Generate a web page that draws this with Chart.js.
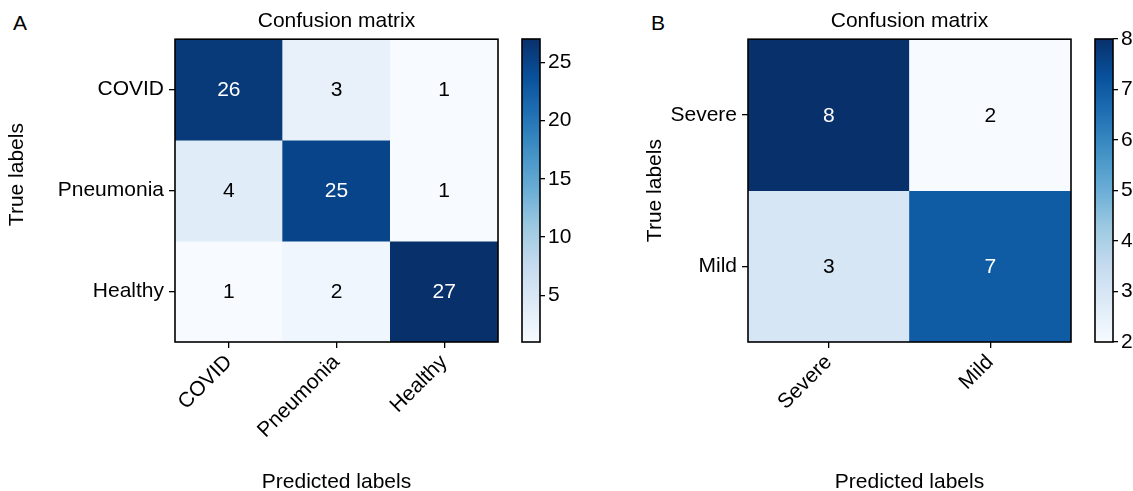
<!DOCTYPE html>
<html>
<head>
<meta charset="utf-8">
<script src="https://cdn.jsdelivr.net/npm/chart.js@4.4.1/dist/chart.umd.min.js"></script>
<style>
  html, body { margin: 0; padding: 0; background: #fff; }
  #wrap { position: relative; width: 1133px; height: 491px; overflow: hidden; }
  canvas { position: absolute; top: 0; }
  .panel { position: absolute; top: 12px; font: 21px 'Liberation Sans', Arial, sans-serif; line-height: 21px; color: #000; }
</style>
</head>
<body>
<div id="wrap">
  <div class="panel" style="left:13px">A</div>
  <div class="panel" style="left:651px">B</div>
  <canvas id="cmA" width="510" height="491" style="left:0"></canvas>
  <canvas id="cbA" width="110" height="491" style="left:510px"></canvas>
  <canvas id="cmB" width="445" height="491" style="left:638px"></canvas>
  <canvas id="cbB" width="50" height="491" style="left:1083px"></canvas>
</div>
<script>
// panel A: 3 classes
const classesA = ['COVID', 'Pneumonia', 'Healthy'];
const matrixA = [
  [26, 3, 1],
  [4, 25, 1],
  [1, 2, 27],
];
const rangeA = [1, 27];
const cbarTicksA = [5, 10, 15, 20, 25];

// panel B: severity
const classesB = ['Severe', 'Mild'];
const matrixB = [
  [8, 2],
  [3, 7],
];
const rangeB = [2, 8];
const cbarTicksB = [2, 3, 4, 5, 6, 7, 8];

const BLUES = ['#f7fbff', '#deebf7', '#c6dbef', '#9ecae1', '#6baed6', '#4292c6', '#2171b5', '#08519c', '#08306b'];
const FONT = "'Liberation Sans', Arial, sans-serif";

Chart.defaults.font.family = FONT;
Chart.defaults.font.size = 21;
Chart.defaults.color = '#000';
Chart.defaults.animation = false;

function hex(c) { return [1, 3, 5].map(i => parseInt(c.substr(i, 2), 16)); }
function blues(t) {
  t = Math.max(0, Math.min(1, t));
  const p = t * (BLUES.length - 1);
  const i = Math.min(Math.floor(p), BLUES.length - 2);
  const f = p - i;
  const a = hex(BLUES[i]), b = hex(BLUES[i + 1]);
  const m = a.map((v, k) => Math.round(v + (b[k] - v) * f));
  return 'rgb(' + m.join(',') + ')';
}

// black box round the plot area
const framePlugin = {
  id: 'frame',
  afterDraw(chart) {
    const { ctx, chartArea: a } = chart;
    ctx.save();
    ctx.strokeStyle = '#000';
    ctx.lineWidth = 1.6;
    ctx.strokeRect(a.left, a.top, a.right - a.left, a.bottom - a.top);
    ctx.restore();
  }
};

// numbers inside the cells
const cellTextPlugin = {
  id: 'cellText',
  afterDatasetsDraw(chart) {
    const { ctx } = chart;
    const matrix = chart.options.plugins.cellText.matrix;
    const thresh = Math.max(...matrix.flat()) / 2;
    ctx.save();
    ctx.font = '21px ' + FONT;
    ctx.textAlign = 'center';
    ctx.textBaseline = 'middle';
    chart.data.datasets.forEach((ds, r) => {
      chart.getDatasetMeta(r).data.forEach((el, c) => {
        const v = matrix[r][c];
        const p = el.getCenterPoint();
        ctx.fillStyle = v > thresh ? '#fff' : '#000';
        ctx.fillText(String(v), p.x, p.y + 1);
      });
    });
    ctx.restore();
  }
};

// rotated y label (panel A's sits a bit above the middle)
const sideLabelPlugin = {
  id: 'sideLabel',
  afterDraw(chart) {
    const o = chart.options.plugins.sideLabel;
    const { ctx, chartArea: a } = chart;
    ctx.save();
    ctx.font = '21px ' + FONT;
    ctx.fillStyle = '#000';
    ctx.textAlign = 'center';
    ctx.textBaseline = 'middle';
    ctx.translate(o.x, (a.top + a.bottom) / 2 + o.shift);
    ctx.rotate(-Math.PI / 2);
    ctx.fillText(o.text, 0, 0);
    ctx.restore();
  }
};

function makeMatrix(id, classes, matrix, range, yAxisWidth, labelShift) {
  const n = classes.length;
  const centers = classes.map((_, i) => i + 0.5);
  const datasets = matrix.map((row, r) => ({
    label: classes[r],
    data: row.map(() => [r, r + 1]),
    backgroundColor: row.map(v => blues((v - range[0]) / (range[1] - range[0]))),
    borderWidth: 0,
    barPercentage: 1,
    categoryPercentage: 1,
  }));
  return new Chart(document.getElementById(id), {
    type: 'bar',
    data: { labels: classes, datasets },
    options: {
      responsive: false,
      devicePixelRatio: 1,
      layout: { padding: { left: 0, right: 12, top: 0, bottom: 0 } },
      plugins: {
        legend: { display: false },
        tooltip: { enabled: false },
        title: {
          display: true, text: 'Confusion matrix', fullSize: false,
          font: { size: 21, weight: 'normal' }, color: '#000',
          padding: { top: 9, bottom: 5 },
        },
        cellText: { matrix },
        sideLabel: { text: 'True labels', x: 17, shift: labelShift },
      },
      scales: {
        x: {
          stacked: true,
          grid: { display: true, offset: false, drawOnChartArea: false, drawTicks: true, tickLength: 6, color: '#000', lineWidth: 1.3 },
          border: { display: false },
          ticks: { autoSkip: false, minRotation: 45, maxRotation: 45, padding: 2, font: { size: 21 } },
          title: { display: true, text: 'Predicted labels', font: { size: 21, lineHeight: 0.85 }, padding: { top: 0, bottom: 0 } },
          afterFit(s) { s.height = 149; },
        },
        y: {
          stacked: false,
          min: 0, max: n, reverse: true,
          afterBuildTicks(s) { s.ticks = centers.map(v => ({ value: v })); },
          grid: { display: true, drawOnChartArea: false, drawTicks: true, tickLength: 6, color: '#000', lineWidth: 1.3 },
          border: { display: false },
          ticks: { padding: 5, font: { size: 21 }, callback: (v, i) => classes[i] },
          afterFit(s) { s.width = yAxisWidth; },
        },
      },
    },
    plugins: [cellTextPlugin, framePlugin, sideLabelPlugin],
  });
}

function makeCbar(id, range, ticks, axisWidth) {
  return new Chart(document.getElementById(id), {
    type: 'bar',
    data: {
      labels: [''],
      datasets: [{
        data: [range],
        borderWidth: 0,
        barPercentage: 1,
        categoryPercentage: 1,
        backgroundColor(ctx) {
          const chart = ctx.chart;
          if (!chart.chartArea) return BLUES[0];
          const y = chart.scales.y;
          const g = chart.ctx.createLinearGradient(0, y.getPixelForValue(range[0]), 0, y.getPixelForValue(range[1]));
          BLUES.forEach((c, i) => g.addColorStop(i / (BLUES.length - 1), c));
          return g;
        },
      }],
    },
    options: {
      responsive: false,
      devicePixelRatio: 1,
      layout: { padding: { left: 12, right: 0, top: 39, bottom: 149 } },
      plugins: { legend: { display: false }, tooltip: { enabled: false } },
      scales: {
        x: { display: false },
        y: {
          position: 'right',
          min: range[0], max: range[1],
          afterBuildTicks(s) { s.ticks = ticks.map(v => ({ value: v })); },
          grid: { display: true, drawOnChartArea: false, drawTicks: true, tickLength: 5, color: '#000', lineWidth: 1.3 },
          border: { display: false },
          ticks: { padding: 3, font: { size: 21 } },
          afterFit(s) { s.width = axisWidth; },
        },
      },
    },
    plugins: [framePlugin],
  });
}

makeMatrix('cmA', classesA, matrixA, rangeA, 175, -16);
makeCbar('cbA', rangeA, cbarTicksA, 80);
makeMatrix('cmB', classesB, matrixB, rangeB, 110, 0);
makeCbar('cbB', rangeB, cbarTicksB, 20);
</script>
</body>
</html>
